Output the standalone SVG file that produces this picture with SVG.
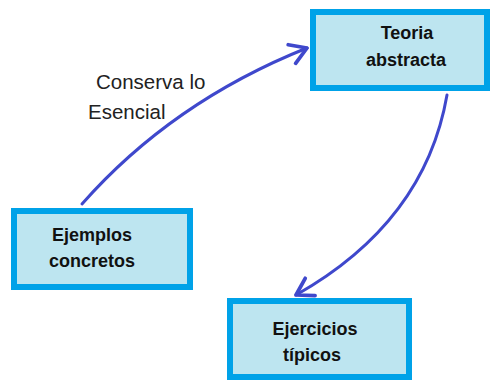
<svg xmlns="http://www.w3.org/2000/svg" width="491" height="381" viewBox="0 0 491 381">
<style>
.box{fill:#bde5f0;stroke:#00a2e8;stroke-width:6}
.lbl{font-family:"Liberation Sans",Arial,sans-serif;font-weight:bold;font-size:18px;fill:#111;text-anchor:middle}
.note{font-family:"Liberation Sans",Arial,sans-serif;font-size:20.5px;fill:#222}
.conn{fill:none;stroke:#3f48cc;stroke-width:3;stroke-linecap:round}
</style>
<defs>
<marker id="head" markerUnits="userSpaceOnUse" markerWidth="30" markerHeight="30" viewBox="-16 -12 20 24" refX="0" refY="0" orient="auto">
<path d="M-13,-8 L0,0 L-13,8" fill="none" stroke="#3f48cc" stroke-width="3" stroke-linecap="round" stroke-linejoin="round"/>
</marker>
</defs>
<g id="connectors">
<path class="conn" d="M82,204 Q172,102 307,48" marker-end="url(#head)"/>
<path class="conn" d="M447,95 Q425,222 296,295" marker-end="url(#head)"/>
<text class="note" x="96" y="89">Conserva lo</text>
<text class="note" x="88" y="119">Esencial</text>
</g>
<g id="teoria">
<rect class="box" x="313" y="12" width="174" height="76"/>
<text class="lbl" x="407" y="39">Teoria</text>
<text class="lbl" x="406" y="66">abstracta</text>
</g>
<g id="ejemplos">
<rect class="box" x="14" y="211" width="176" height="76"/>
<text class="lbl" x="92" y="241">Ejemplos</text>
<text class="lbl" x="92" y="267">concretos</text>
</g>
<g id="ejercicios">
<rect class="box" x="230" y="301" width="179" height="76"/>
<text class="lbl" x="315" y="335">Ejercicios</text>
<text class="lbl" x="312" y="361">típicos</text>
</g>
</svg>
